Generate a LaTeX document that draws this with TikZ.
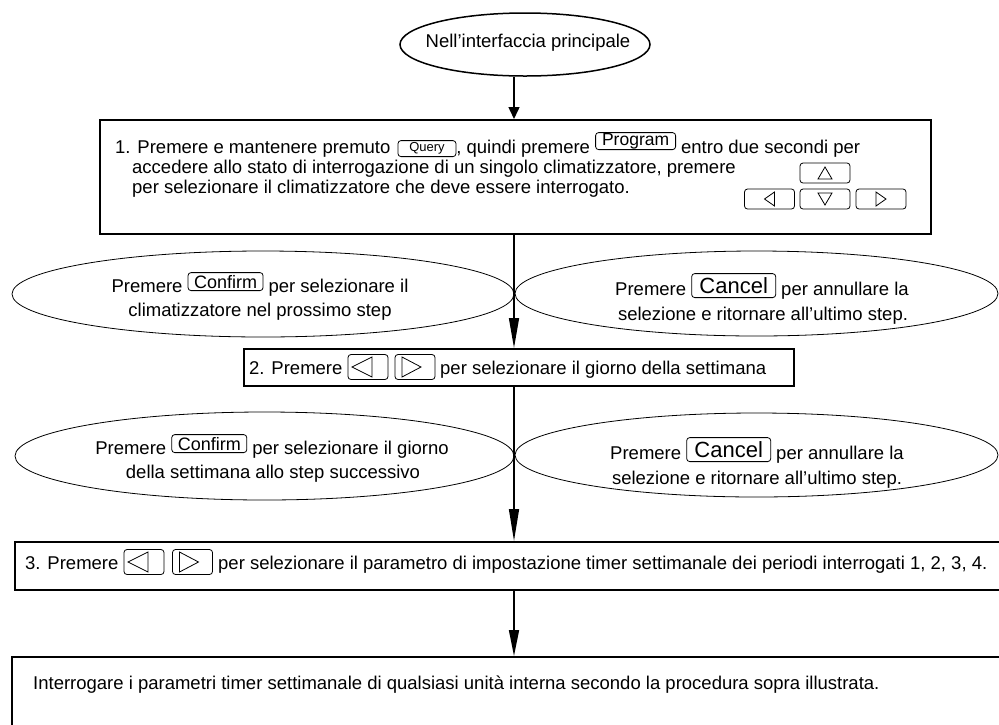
\documentclass[tikz,border=0pt]{standalone}
\usepackage{fontspec}
\setmainfont{Liberation Sans}
\usetikzlibrary{arrows.meta,shapes.geometric}
\newcommand\keyQuery[1]{\tikz[baseline={([yshift=4pt]#1.south)}]\node[keybox,minimum width=58pt,minimum height=16pt,font=\fontsize{13}{14}\selectfont] (#1) {Query};}
\newcommand\keyProgram[1]{\tikz[baseline={([yshift=-3pt]#1.south)}]\node[keybox,minimum width=80pt,minimum height=17pt,font=\fontsize{17.5}{18}\selectfont] (#1) {Program};}
\newcommand\keyConfirm[1]{\tikz[baseline={([yshift=-1pt]#1.south)}]\node[keybox,minimum width=75pt,minimum height=18pt,font=\fontsize{18}{19}\selectfont] (#1) {Confirm};}
\newcommand\keyCancel[1]{\tikz[baseline={([yshift=3pt]#1.south)}]\node[keybox,minimum width=84pt,minimum height=24pt,font=\fontsize{22}{23}\selectfont] (#1) {Cancel};}
\begin{document}
\begin{tikzpicture}[x=1pt,y=-1pt,
 every node/.style={inner sep=0pt,font=\fontsize{18.5}{20}\selectfont},
 frame/.style={draw,rectangle,line width=1.6pt,anchor=north west},
 oval/.style={draw,ellipse,line width=0.8pt},
 keybox/.style={draw,rectangle,rounded corners=3pt,line width=0.8pt,inner sep=0pt},
 padkey/.style={keybox,minimum width=50pt,minimum height=20pt},
 bigkey/.style={keybox,minimum width=40pt,minimum height=25pt},
 tri/.style={line width=0.8pt,line join=miter},
 conn/.style={line width=1.5pt},
 txt/.style={anchor=base west},
 ctxt/.style={anchor=base}]
\fill[white] (0,0) rectangle (999,724);
\useasboundingbox (0,0) rectangle (999,724);
\clip (0,0) rectangle (999,724);
\coordinate (axis) at (514,0);

% start
\node[oval,line width=1.5pt,minimum width=250pt,minimum height=63pt] (start) at (525,44.5) {};
\node (startlbl) at (528,43) {Nell’interfaccia principale};

% box 1
\node[frame,minimum width=831pt,minimum height=114pt] (box1) at (99,119) {};
\node[txt] (l1) at (115,153) {1. Premere e mantenere premuto\hspace{2pt} \keyQuery{kq}, quindi premere \keyProgram{kp} entro due secondi per};
\node[txt] (l2) at (132,173) {accedere allo stato di interrogazione di un singolo climatizzatore, premere};
\node[txt] (l3) at (132,193) {per selezionare il climatizzatore che deve essere interrogato.};
\node[padkey] (kup) at (825,173) {};
\node[padkey] (kleft) at (769.5,199) {};
\node[padkey] (kdown) at (825,199) {};
\node[padkey] (kright) at (881,199) {};
\draw[tri] ([shift={(-7,6)}]kup.center) -- ([shift={(7,6)}]kup.center) -- ([shift={(0,-6)}]kup.center) -- cycle;
\draw[tri] ([shift={(-7,-6)}]kdown.center) -- ([shift={(7,-6)}]kdown.center) -- ([shift={(0,6)}]kdown.center) -- cycle;
\draw[tri] ([shift={(5,-7)}]kleft.center) -- ([shift={(5,7)}]kleft.center) -- ([shift={(-5,0)}]kleft.center) -- cycle;
\draw[tri] ([shift={(-5,-7)}]kright.center) -- ([shift={(-5,7)}]kright.center) -- ([shift={(5,0)}]kright.center) -- cycle;

% row 1 ellipses
\node[oval,minimum width=502pt,minimum height=86pt] (e1l) at (263,294) {};
\node[oval,minimum width=483pt,minimum height=85pt] (e1r) at (756.5,293.5) {};
\node[ctxt] (e1la) at (260,292) {Premere \keyConfirm{kc1} per selezionare il};
\node[ctxt] (e1lb) at (260,316) {climatizzatore nel prossimo step};
\node[ctxt] (e1ra) at (762,295) {Premere \keyCancel{kx1} per annullare la};
\node[ctxt] (e1rb) at (763,320) {selezione e ritornare all’ultimo step.};

% box 2
\node[frame,minimum width=550pt,minimum height=37pt] (box2) at (243,348) {};
\node[txt] (t2a) at (249,374) {2. Premere};
\node[bigkey] (b2l) at (368,367) {};
\node[bigkey] (b2r) at (415,367) {};
\draw[tri] ([shift={(4,-10)}]b2l.center) -- ([shift={(4,10)}]b2l.center) -- ([shift={(-16,0)}]b2l.center) -- cycle;
\draw[tri] ([shift={(-13,-10)}]b2r.center) -- ([shift={(-13,10)}]b2r.center) -- ([shift={(6,0)}]b2r.center) -- cycle;
\node[txt] (t2b) at (440,374) {per selezionare il giorno della settimana};

% row 2 ellipses
\node[oval,minimum width=499pt,minimum height=88pt] (e2l) at (264.5,456) {};
\node[oval,minimum width=483pt,minimum height=84pt] (e2r) at (756.5,455) {};
\node[ctxt] (e2la) at (272,454) {Premere \keyConfirm{kc2} per selezionare il giorno};
\node[ctxt] (e2lb) at (273,478) {della settimana allo step successivo};
\node[ctxt] (e2ra) at (757,459) {Premere \keyCancel{kx2} per annullare la};
\node[ctxt] (e2rb) at (757,484) {selezione e ritornare all’ultimo step.};

% box 3
\node[frame,minimum width=1000pt,minimum height=48pt] (box3) at (14,541) {};
\node[txt] (t3a) at (25,569) {3. Premere};
\node[bigkey] (b3l) at (144,562) {};
\node[bigkey] (b3r) at (192.5,562) {};
\draw[tri] ([shift={(4,-10)}]b3l.center) -- ([shift={(4,10)}]b3l.center) -- ([shift={(-16,0)}]b3l.center) -- cycle;
\draw[tri] ([shift={(-13,-10)}]b3r.center) -- ([shift={(-13,10)}]b3r.center) -- ([shift={(6,0)}]b3r.center) -- cycle;
\node[txt] (t3b) at (218,569) {per selezionare il parametro di impostazione timer settimanale dei periodi interrogati 1, 2, 3, 4.};

% final box
\node[frame,minimum width=1000pt,minimum height=120pt] (box4) at (11,656) {};
\node[txt] (t4) at (33,689) {Interrogare i parametri timer settimanale di qualsiasi unità interna secondo la procedura sopra illustrata.};

% connectors
\draw[conn,-{Triangle[length=12pt,width=11pt]}] (start.south -| axis) -- (box1.north -| axis);
\draw[conn,-{Triangle[length=30pt,width=10pt]}] (box1.south -| axis) -- (box2.north -| axis);
\draw[conn,-{Triangle[length=32pt,width=10pt]}] (box2.south -| axis) -- (box3.north -| axis);
\draw[conn,-{Triangle[length=26pt,width=10pt]}] (box3.south -| axis) -- (box4.north -| axis);
\end{tikzpicture}
\end{document}
